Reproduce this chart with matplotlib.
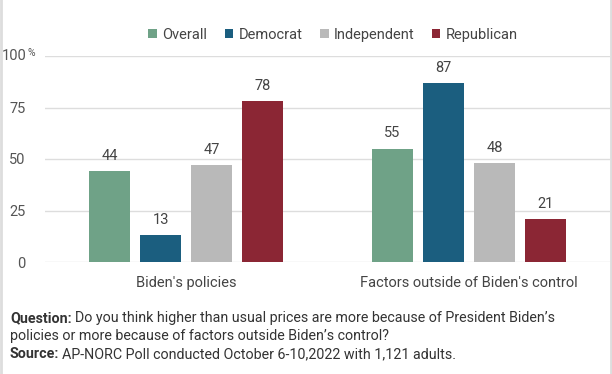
import matplotlib.pyplot as plt
import numpy as np

plt.rcParams["font.family"] = ["Roboto", "DejaVu Sans"]

categories = ["Biden's policies", "Factors outside of Biden's control"]
groups = ["Overall", "Democrat", "Independent", "Republican"]
values = {
    "Overall": [44, 55],
    "Democrat": [13, 87],
    "Independent": [47, 48],
    "Republican": [78, 21],
}
colors = ["#6fa287", "#1b5e7f", "#b9b9b9", "#8b2634"]
yticks = [0, 25, 50, 75, 100]

W, H = 612, 374
fig = plt.figure(figsize=(W / 100, H / 100), dpi=100)
ax = fig.add_axes([45 / W, 1 - 262 / H, (610 - 45) / W, 206 / H])

x = np.arange(len(categories))
width = 0.145
step = 0.181
for i, g in enumerate(groups):
    pos = x + (i - 1.5) * step
    bars = ax.bar(pos, values[g], width, color=colors[i], label=g, zorder=3)
    for b, v in zip(bars, values[g]):
        ax.text(b.get_x() + b.get_width() / 2, v + 4, str(v), ha="center", va="bottom",
                fontsize=10.5, color="#444444")

ax.set_xlim(-0.5, 1.5)
ax.set_ylim(0, 100)
ax.set_yticks(yticks)
ax.set_yticklabels([str(t) if t < 100 else "" for t in yticks], fontsize=10.5, color="#555555")
ax.text(27 / W, 1 - 56 / H, "100", transform=fig.transFigure, ha="right", va="center",
        fontsize=10.5, color="#555555")
ax.text(28 / W, 1 - 53 / H, "%", transform=fig.transFigure, ha="left", va="center",
        fontsize=7.5, color="#555555")
ax.tick_params(axis="y", length=0, pad=14)
ax.set_xticks(x)
ax.set_xticklabels(categories, fontsize=10.5, color="#444444")
ax.tick_params(axis="x", length=0, pad=10)
ax.grid(axis="y", color="#dddddd", linewidth=1, zorder=0)
for s in ax.spines.values():
    s.set_visible(False)

fig.legend(loc="center", bbox_to_anchor=(333 / W, 1 - 35 / H), ncol=4, frameon=False,
           fontsize=10.5, handlelength=0.6, handleheight=0.6, handletextpad=0.35,
           columnspacing=1.2, labelcolor="#444444")

note = dict(fontsize=10.3, color="#333333", va="center")
fig.text(10 / W, 1 - 318 / H, "Question:", fontweight="bold", **note)
fig.text(75 / W, 1 - 318 / H,
         "Do you think higher than usual prices are more because of President Biden’s", **note)
fig.text(10 / W, 1 - 336 / H, "policies or more because of factors outside Biden’s control?",
         **note)
fig.text(10 / W, 1 - 354 / H, "Source:", fontweight="bold", **note)
fig.text(62 / W, 1 - 354 / H, "AP-NORC Poll conducted October 6-10,2022 with 1,121 adults.",
         **note)

fig.add_artist(plt.Line2D([1 / W, 1 / W], [0, 1], color="#dddddd", lw=2))
fig.add_artist(plt.Line2D([1 - 1 / W, 1 - 1 / W], [0, 1], color="#dddddd", lw=2))

fig.savefig("out.png", dpi=100)
